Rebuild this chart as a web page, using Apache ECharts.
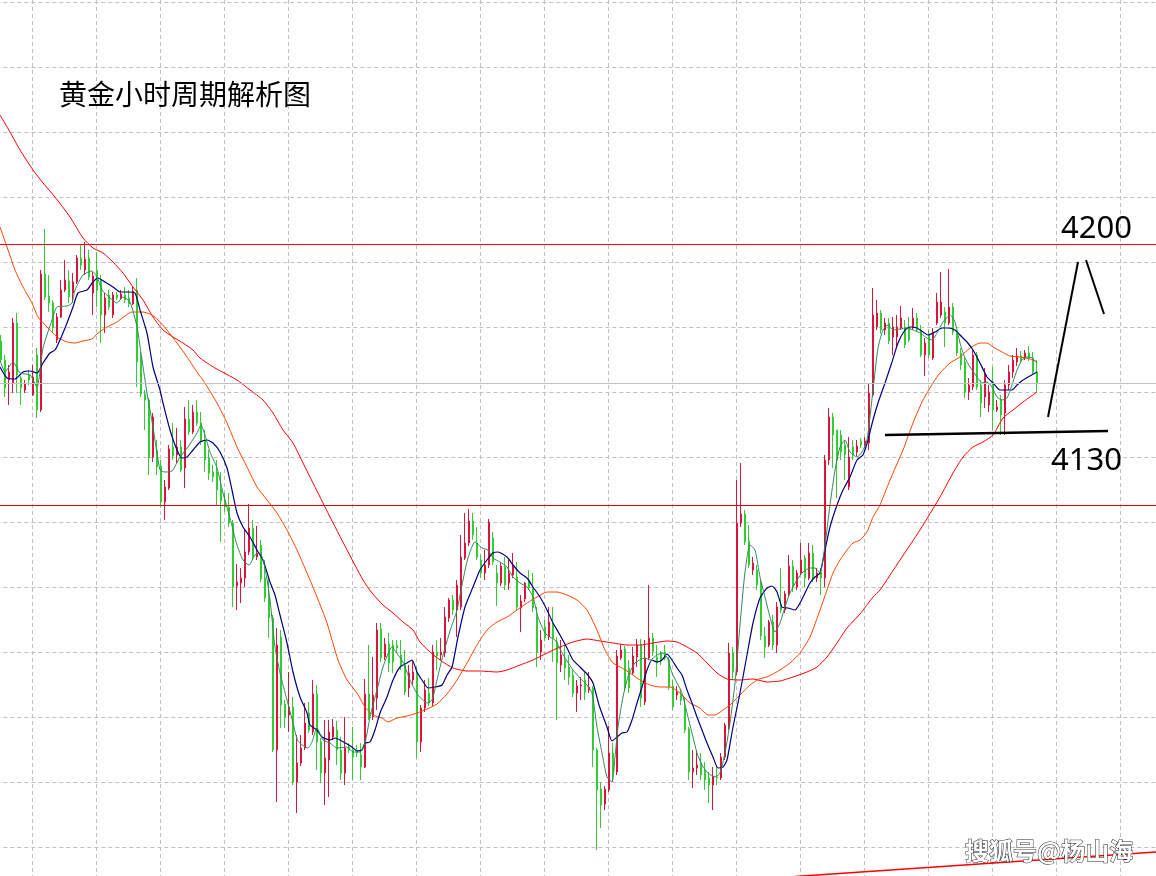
<!DOCTYPE html>
<html>
<head>
<meta charset="utf-8">
<title>黄金小时周期解析图</title>
<script src="https://cdn.jsdelivr.net/npm/echarts/dist/echarts.min.js"></script>
<style>
  html, body { margin: 0; padding: 0; background: #fff; }
  #chart { width: 1156px; height: 876px; }
</style>
</head>
<body>
<div id="chart"></div>
<script>
// hourly gold candles: [open, close, low, high]
const candles = [
  [4161.2,4153.6,4152.8,4163.6],[4153.6,4142.4,4138.8,4155.6],[4145.6,4148.8,4135.6,4151.6],[4144.4,4168.4,4140.4,4170.4],[4168.4,4147.6,4140.4,4172.4],
  [4146.4,4142.4,4135.6,4147.2],[4141.6,4144.0,4140.4,4145.6],[4147.6,4145.6,4143.6,4149.6],[4139.6,4146.8,4139.2,4151.6],[4155.6,4133.6,4130.4,4158.4],
  [4133.6,4188.0,4132.8,4189.6],[4188.0,4178.8,4177.6,4206.0],[4179.2,4176.4,4172.8,4187.6],[4176.4,4166.4,4164.4,4177.6],[4161.6,4170.8,4160.4,4172.4],
  [4170.8,4181.6,4170.4,4185.6],[4181.6,4185.6,4180.8,4193.6],[4185.2,4178.8,4176.4,4189.6],[4180.4,4184.8,4176.4,4188.4],[4184.8,4194.4,4184.0,4195.6],
  [4194.4,4191.6,4189.6,4199.6],[4189.6,4194.0,4187.6,4200.8],[4194.4,4186.8,4185.6,4197.6],[4180.4,4187.2,4171.6,4188.8],[4189.6,4181.6,4174.8,4196.8],
  [4185.6,4171.6,4160.4,4187.6],[4171.6,4178.4,4164.4,4180.4],[4179.6,4174.8,4173.6,4181.6],[4171.6,4179.6,4170.4,4180.8],[4179.6,4178.4,4177.6,4180.8],
  [4178.4,4180.0,4177.6,4181.6],[4179.6,4177.6,4176.4,4182.8],[4178.4,4176.0,4174.8,4181.6],[4176.0,4181.2,4175.6,4182.8],[4181.6,4152.8,4142.8,4186.4],
  [4154.8,4140.0,4138.8,4156.8],[4140.0,4137.6,4125.6,4141.6],[4137.6,4114.4,4107.6,4138.4],[4114.8,4130.8,4112.8,4132.4],[4117.6,4110.8,4107.6,4121.6],
  [4111.2,4096.8,4094.8,4113.6],[4096.8,4102.8,4089.6,4105.6],[4102.4,4118.0,4101.6,4119.6],[4118.8,4115.2,4113.6,4128.4],[4115.6,4118.8,4112.4,4126.4],
  [4118.8,4109.6,4108.8,4121.6],[4110.4,4130.0,4102.4,4134.8],[4130.0,4124.8,4123.6,4137.6],[4124.8,4132.8,4124.0,4135.6],[4132.8,4128.4,4127.2,4137.6],
  [4128.4,4121.6,4119.6,4132.8],[4121.6,4113.6,4108.8,4125.6],[4114.4,4108.4,4105.6,4117.6],[4108.8,4106.8,4104.8,4111.6],[4108.8,4101.6,4095.6,4113.6],
  [4102.0,4097.2,4080.8,4108.8],[4097.6,4094.8,4092.8,4100.4],[4094.8,4088.4,4086.8,4100.4],[4088.4,4062.8,4054.8,4089.6],[4063.2,4064.8,4053.6,4072.0],
  [4064.4,4066.4,4056.4,4070.4],[4066.4,4076.8,4062.8,4086.0],[4076.8,4086.4,4075.6,4096.0],[4086.4,4074.8,4073.6,4089.6],[4074.8,4076.4,4073.6,4087.2],
  [4079.6,4066.0,4064.8,4081.6],[4066.4,4058.4,4056.8,4073.6],[4058.4,4050.4,4042.4,4066.8],[4050.4,3997.6,3996.8,4051.6],[3997.6,4039.6,3976.8,4046.4],
  [4042.8,4015.6,4006.4,4045.6],[4016.0,4010.8,4006.4,4017.6],[4011.6,4014.8,4004.8,4028.8],[4014.8,3984.8,3983.6,4018.8],[3984.8,3992.4,3972.4,4003.6],
  [3992.4,3998.4,3991.2,4003.6],[3998.4,4008.4,3997.6,4016.4],[4012.4,4005.6,4004.4,4016.8],[4004.8,4020.0,4003.6,4025.6],[4020.0,4000.8,3989.6,4023.6],
  [4000.8,3988.4,3984.4,4002.4],[3988.4,3994.4,3975.6,4009.6],[3993.6,4004.8,3978.8,4009.6],[4002.8,4006.8,4001.6,4010.0],[4005.6,3997.6,3991.6,4009.2],
  [3997.6,3988.4,3985.6,4002.8],[3988.4,3998.4,3983.6,4010.8],[3998.8,3997.6,3996.4,4000.4],[3997.6,3994.8,3985.6,4006.8],[3997.6,3996.4,3994.8,3999.6],
  [3995.6,3990.8,3985.6,4000.4],[3990.8,4020.0,3990.4,4026.0],[4020.0,4010.8,4009.6,4039.6],[4010.8,4019.6,4009.6,4034.8],[4018.4,4045.6,4013.6,4048.4],
  [4046.0,4034.4,4032.8,4048.4],[4034.8,4040.0,4033.6,4042.4],[4040.0,4032.4,4028.8,4044.4],[4039.6,4032.8,4028.4,4041.6],[4039.6,4038.4,4036.8,4041.6],
  [4035.6,4031.2,4029.6,4041.6],[4031.6,4020.8,4019.6,4037.6],[4022.4,4028.4,4018.8,4031.6],[4025.6,4028.8,4023.6,4033.6],[4028.4,4000.8,3994.4,4030.8],
  [4000.8,4014.4,3996.8,4015.6],[4014.4,4021.6,4012.8,4025.6],[4020.4,4016.4,4015.2,4026.4],[4016.4,4036.8,4015.2,4039.6],[4036.8,4035.2,4029.6,4041.6],
  [4035.6,4036.8,4033.6,4042.4],[4036.4,4050.8,4034.8,4054.8],[4050.4,4057.6,4048.8,4058.4],[4057.6,4053.6,4051.6,4059.6],[4053.6,4063.6,4042.8,4065.6],
  [4054.8,4074.8,4053.6,4083.6],[4074.4,4080.4,4073.6,4092.4],[4080.4,4089.2,4079.2,4094.0],[4089.2,4083.6,4081.6,4092.4],[4080.4,4074.8,4073.6,4086.8],
  [4073.6,4068.4,4066.4,4075.6],[4068.4,4071.6,4065.6,4077.6],[4071.6,4088.8,4070.4,4090.0],[4082.4,4072.8,4071.6,4084.8],[4068.4,4064.4,4055.2,4071.6],
  [4064.4,4071.2,4063.2,4072.4],[4070.8,4063.6,4061.6,4074.8],[4064.4,4068.4,4061.6,4073.6],[4067.6,4070.8,4066.4,4076.4],[4066.8,4054.8,4053.6,4072.8],
  [4054.4,4057.2,4044.8,4059.6],[4058.0,4064.4,4056.8,4064.8],[4065.6,4062.8,4061.6,4069.6],[4062.4,4054.4,4052.8,4068.4],[4050.8,4036.8,4030.8,4054.8],
  [4036.8,4041.6,4033.6,4045.6],[4046.8,4042.4,4041.2,4049.6],[4042.8,4048.8,4041.6,4054.8],[4048.0,4042.4,4032.8,4054.8],[4040.8,4032.4,4009.6,4042.8],
  [4031.6,4035.6,4028.8,4041.6],[4033.6,4030.4,4025.6,4039.6],[4030.8,4026.8,4023.6,4035.6],[4027.6,4020.4,4018.8,4029.6],[4020.4,4023.2,4012.8,4025.6],
  [4023.2,4023.6,4017.6,4026.8],[4025.6,4020.8,4017.6,4028.8],[4021.6,4022.8,4020.4,4028.8],[4022.4,3997.6,3990.8,4023.2],[3997.6,3981.6,3957.6,3998.4],
  [3982.0,3975.6,3966.4,3984.8],[3976.0,3982.0,3973.6,3983.2],[3981.6,3996.4,3980.8,4007.2],[3996.4,3988.8,3984.8,4000.4],[3988.8,4035.2,3987.6,4037.6],
  [4034.4,4037.6,4033.6,4039.6],[4038.0,4022.4,4021.6,4039.2],[4030.4,4022.4,4020.4,4033.6],[4028.4,4035.2,4027.6,4038.8],[4034.8,4039.6,4030.8,4042.0],
  [4039.6,4018.4,4014.8,4042.0],[4016.8,4034.4,4015.6,4041.6],[4034.4,4042.4,4033.6,4063.6],[4042.4,4036.8,4035.2,4044.4],[4034.8,4032.4,4026.8,4039.6],
  [4036.4,4033.2,4031.6,4037.2],[4036.8,4034.4,4033.6,4039.6],[4033.6,4022.8,4021.6,4034.8],[4023.2,4014.8,4013.6,4025.6],[4019.6,4020.8,4017.6,4023.2],
  [4019.6,4017.6,4015.6,4021.6],[4014.4,4005.6,4004.4,4018.4],[4006.0,3988.8,3985.6,4006.8],[3988.8,3990.4,3982.4,3997.6],[3990.4,3991.6,3987.6,3997.6],
  [3992.4,3987.6,3985.6,3996.4],[3989.6,3985.6,3981.6,3992.8],[3986.4,3983.6,3976.4,3988.8],[3983.6,3987.2,3973.6,3990.8],[3986.8,3986.4,3983.6,3991.6],
  [3986.4,3994.8,3985.6,3996.4],[3994.8,4007.6,3993.6,4008.4],[4006.8,4036.4,4005.6,4040.4],[4036.4,4028.8,4025.6,4038.8],[4028.8,4088.4,4027.6,4105.6],
  [4088.4,4092.0,4086.8,4112.4],[4092.0,4080.8,4079.6,4093.6],[4081.2,4071.6,4070.4,4087.6],[4069.6,4072.4,4067.6,4074.8],[4069.6,4063.6,4061.6,4071.6],
  [4064.4,4043.2,4041.6,4065.6],[4043.2,4038.8,4034.4,4046.8],[4039.6,4048.8,4038.8,4049.6],[4048.8,4039.6,4037.6,4051.6],[4039.6,4054.8,4036.4,4056.8],
  [4055.6,4053.6,4052.4,4070.4],[4053.6,4060.0,4052.4,4061.2],[4060.0,4071.2,4059.2,4075.6],[4071.2,4062.8,4060.8,4073.6],[4062.8,4068.4,4061.6,4069.6],
  [4068.4,4073.6,4067.6,4080.4],[4074.4,4066.4,4062.8,4075.6],[4066.4,4076.4,4065.6,4080.4],[4076.4,4066.4,4064.8,4079.6],[4066.4,4068.4,4064.8,4070.4],
  [4068.8,4066.4,4059.6,4070.4],[4066.4,4113.6,4062.8,4115.6],[4113.6,4130.8,4111.6,4134.4],[4130.8,4123.6,4110.4,4132.4],[4125.6,4113.6,4098.4,4125.6],
  [4123.6,4116.8,4113.6,4125.6],[4119.6,4115.6,4105.6,4121.6],[4102.8,4114.8,4101.6,4122.8],[4118.8,4115.6,4113.6,4121.6],[4116.8,4119.2,4115.2,4121.6],
  [4121.2,4119.6,4118.4,4122.4],[4119.6,4121.2,4118.4,4122.8],[4120.4,4140.4,4117.6,4144.4],[4139.6,4171.6,4138.8,4182.4],[4166.8,4172.4,4165.6,4177.6],
  [4172.4,4165.6,4164.0,4173.6],[4165.6,4168.4,4163.6,4170.4],[4168.4,4161.2,4160.0,4170.4],[4162.8,4166.8,4155.6,4170.8],[4162.8,4166.8,4158.8,4171.6],
  [4166.4,4170.4,4165.6,4175.2],[4166.8,4159.6,4158.4,4169.6],[4166.8,4161.6,4160.8,4170.8],[4166.4,4170.4,4165.6,4174.4],[4170.4,4165.6,4164.8,4172.4],
  [4165.6,4155.6,4154.8,4167.6],[4155.6,4160.4,4147.2,4162.4],[4163.6,4155.6,4154.4,4165.6],[4154.4,4164.8,4153.6,4166.4],[4168.4,4176.8,4167.6,4180.4],
  [4171.6,4176.8,4170.4,4188.8],[4172.8,4168.4,4158.8,4174.8],[4168.4,4174.8,4167.6,4190.0],[4174.8,4164.8,4163.6,4176.4],[4164.4,4156.4,4155.2,4165.6],
  [4156.4,4151.6,4149.6,4158.4],[4152.8,4140.8,4138.4,4154.4],[4140.8,4143.6,4137.6,4146.4],[4142.8,4155.6,4141.6,4157.6],[4155.6,4142.8,4141.6,4156.8],
  [4143.6,4136.4,4130.8,4145.6],[4138.8,4147.6,4134.4,4150.4],[4135.6,4140.8,4132.8,4143.6],[4144.8,4133.6,4125.6,4150.8],[4133.6,4134.8,4132.8,4137.6],
  [4137.6,4131.6,4123.6,4139.6],[4132.4,4143.6,4123.6,4145.6],[4143.6,4148.8,4141.6,4151.6],[4148.8,4153.6,4146.4,4155.6],[4152.8,4155.2,4151.2,4158.4],
  [4155.2,4153.6,4152.4,4157.2],[4154.4,4156.4,4153.6,4157.6],[4156.4,4154.4,4153.2,4159.2],[4154.4,4148.8,4147.6,4156.8],[4148.8,4144.4,4140.4,4153.6]
];

// moving averages: [bar index, price]
const maFast = [
  [-0.25,4153.6],[1,4148.8],[3,4152.8],[4.75,4148.4],[7.25,4147.6],[9,4142.8],[10.5,4158.4],[12.75,4169.6],[14,4174.8],[16.5,4175.2],
  [17.75,4176.4],[18.5,4181.6],[20.5,4187.6],[22.75,4189.2],[24,4186.8],[25.25,4181.6],[27.25,4178.4],[29,4176.4],[30.5,4178.8],[32.25,4176.8],
  [34,4166.8],[35.25,4153.6],[36.5,4140.4],[38,4126.8],[39.75,4109.6],[41,4108.8],[42.75,4109.2],[44.75,4114.8],[46.75,4118.8],[49,4124.4],
  [50,4127.6],[51,4123.6],[52.25,4116.8],[54,4110.4],[55.5,4100.4],[57.25,4090.4],[59,4079.6],[60.5,4073.6],[62,4071.6],[63.5,4075.6],
  [64.75,4076.4],[66,4070.4],[67.25,4057.6],[68.5,4038.8],[69.75,4028.4],[71.5,4017.6],[73,4008.4],[74.25,4001.2],[76.75,3998.4],[77.75,4000.8],
  [79,4006.4],[80.5,4001.6],[82.25,4000.4],[84,3998.4],[86.5,3998.8],[88,3996.8],[89.75,3996.8],[91,4000.4],[92.25,4010.8],[94,4021.6],
  [95.5,4030.8],[97.75,4038.8],[99.25,4035.6],[100.5,4032.8],[102.25,4025.6],[104.25,4019.6],[106.5,4016.4],[107.75,4017.6],[109,4025.6],[110.5,4035.6],
  [112.25,4045.2],[114,4053.6],[115.5,4065.6],[116.75,4074.4],[118.5,4080.8],[120.25,4078.4],[121.75,4077.6],[123,4074.4],[124.75,4072.8],[126.5,4070.8],
  [128,4066.8],[129.75,4064.4],[131.5,4062.8],[133,4058.8],[134.25,4050.8],[136,4044.4],[137.25,4042.8],[138.5,4041.6],[139.75,4038.0],[141.5,4033.2],
  [143,4029.6],[144.75,4026.4],[146.5,4023.6],[147.75,4020.4],[149,4006.8],[150.25,3996.4],[151.5,3986.8],[152.75,3984.8],[153.5,3994.8],[154.25,4006.8],
  [155.5,4018.8],[156.75,4026.8],[158.5,4032.4],[161,4034.4],[162.25,4033.6],[164,4035.6],[165.25,4036.4],[166.5,4034.8],[167.75,4028.4],[169,4024.4],
  [170.25,4020.4],[171.5,4012.4],[172.75,4004.4],[174,3996.4],[175.25,3991.6],[176.75,3988.4],[178.5,3986.8],[179.75,3988.4],[181,3996.4],[182.25,4008.4],
  [183.5,4024.4],[184.75,4047.6],[186,4068.8],[187.25,4079.6],[188.5,4077.6],[189.75,4066.8],[191,4058.8],[192.25,4050.8],[193.5,4044.8],[194.75,4048.4],
  [196,4054.8],[197.25,4060.4],[199,4065.6],[200.5,4068.8],[202.25,4070.4],[203.5,4070.4],[204.75,4068.4],[206,4079.6],[207.25,4095.6],[208.5,4109.6],
  [209.75,4118.8],[211,4121.6],[212.25,4116.8],[214,4114.8],[215.25,4116.8],[216.5,4121.6],[218,4141.6],[219.25,4158.4],[220.5,4165.6],[221.75,4167.6],
  [223,4165.6],[224.75,4166.0],[226.5,4166.4],[228,4165.6],[229.75,4164.4],[231.5,4162.4],[232.75,4161.6],[234,4164.4],[235.5,4168.8],[237.25,4171.6],
  [238.5,4168.8],[239.75,4160.4],[241,4154.4],[242.25,4150.8],[244,4146.8],[245.25,4144.4],[246.5,4144.8],[247.75,4142.8],[249,4138.8],[250.25,4137.6],
  [251.5,4138.4],[252.75,4143.6],[254,4149.6],[255.25,4153.6],[256.5,4154.8],[257.75,4154.4],[259,4152.4]
];

const maMid = [
  [-0.25,4150.8],[1.5,4146.4],[3.5,4146.0],[5.5,4148.8],[7.25,4149.2],[9,4148.4],[10.5,4152.4],[12.25,4156.4],[13.5,4157.6],[14.75,4161.6],
  [16.5,4168.4],[18,4174.8],[19.25,4180.4],[21.5,4181.6],[23,4184.8],[24.25,4186.4],[26,4184.8],[28,4182.8],[29.75,4180.8],[31.75,4180.8],
  [33.5,4180.4],[34.75,4173.6],[36.5,4164.4],[38,4150.8],[39.75,4141.6],[40.5,4136.4],[42.25,4125.6],[44,4117.6],[45.25,4114.4],[46.5,4114.8],
  [48,4117.6],[49.75,4120.8],[51.5,4121.6],[53,4120.4],[54.75,4116.8],[56.5,4110.4],[57.75,4101.6],[59,4092.4],[60.5,4086.8],[62.25,4082.8],
  [64,4077.6],[65.5,4073.6],[67.25,4064.8],[68.5,4059.6],[69.75,4051.6],[71.5,4040.4],[73,4028.8],[74.75,4018.8],[76.5,4012.4],[77.25,4007.6],
  [79,4005.6],[80.25,4002.8],[82.25,4001.6],[83.5,4002.4],[84.75,4001.6],[86.5,4000.0],[87.75,3998.8],[89,3997.2],[90.25,3997.6],[91,4000.4],
  [92.25,4000.8],[93.5,4005.6],[94.75,4012.4],[96.5,4018.8],[98,4025.6],[99.75,4030.8],[101.5,4032.4],[102.75,4033.6],[104,4028.8],[105.25,4025.6],
  [106.75,4022.4],[108.5,4022.8],[110.25,4023.6],[111.5,4027.6],[112.75,4030.8],[114.25,4042.8],[116,4054.8],[118,4062.8],[119.75,4069.6],[121.5,4073.6],
  [123,4076.4],[124.25,4076.8],[126.5,4074.8],[128,4071.6],[129.75,4068.4],[131.5,4066.4],[133,4062.8],[134.75,4058.8],[136.5,4053.6],[138,4048.4],
  [139.75,4043.6],[141.5,4038.4],[143,4033.6],[144.75,4030.8],[146.5,4028.0],[148,4024.4],[149.5,4015.6],[151.5,4006.8],[152.75,4001.2],[154,4002.8],
  [155.25,4004.4],[156.5,4004.8],[157.75,4009.6],[159,4016.4],[160.25,4022.8],[161.5,4029.6],[162.75,4033.6],[164,4032.8],[165.25,4033.6],[166.5,4036.0],
  [167.75,4033.6],[169,4030.4],[170.25,4027.6],[171.5,4021.6],[172.75,4016.4],[174,4010.8],[175.25,4005.6],[176.5,4000.4],[178,3994.8],[179.25,3990.4],
  [180.5,3990.8],[181.5,3993.6],[183,4006.8],[184.75,4020.4],[186.5,4035.6],[188,4048.4],[189.75,4058.4],[191.5,4062.4],[192.75,4063.2],[194,4060.8],
  [195.25,4054.8],[196.75,4054.4],[198.5,4053.6],[199.75,4056.4],[201,4060.4],[202.25,4064.4],[203.5,4066.8],[204.75,4068.4],[206,4077.6],[207.25,4086.8],
  [209,4095.6],[210.5,4101.6],[212.25,4106.8],[214,4113.6],[215.5,4115.6],[216.75,4121.6],[218,4129.6],[219.25,4136.4],[221,4144.4],[222.75,4152.8],
  [224.25,4160.4],[226,4165.6],[227.25,4166.8],[229,4166.4],[230.5,4164.8],[231.75,4163.6],[233.5,4164.8],[235.25,4166.4],[236.75,4166.4],[238.5,4165.6],
  [239.75,4163.6],[241.5,4160.8],[243,4157.6],[244.75,4152.4],[246.5,4146.8],[248,4144.4],[249.75,4141.6],[251.5,4141.6],[252.75,4141.6],[254,4143.6],
  [255.5,4145.6],[257.25,4147.2],[259,4148.8]
];

const maSlow = [
  [-0.25,4206.8],[1.5,4198.8],[3.5,4189.6],[5.5,4182.8],[7.75,4176.4],[9.25,4170.8],[11.5,4166.8],[14,4162.8],[16.5,4160.8],[18.5,4160.4],
  [20.5,4161.2],[22.75,4162.0],[24.25,4164.4],[26.5,4166.8],[29,4168.8],[31,4171.2],[32.75,4172.8],[35.5,4172.8],[37.75,4171.6],[39.25,4169.6],
  [41.5,4165.6],[44,4160.4],[46.5,4154.8],[49.5,4147.6],[50.5,4145.6],[54,4136.4],[56.5,4128.4],[59,4118.8],[61.5,4110.8],[64,4102.8],
  [66.5,4097.6],[69,4092.4],[71.5,4085.6],[74,4077.6],[76.5,4068.4],[79,4058.8],[81.5,4048.4],[84.25,4033.6],[86.5,4025.6],[89,4020.4],
  [91,4014.8],[93,4011.6],[95.25,4010.4],[96.75,4008.8],[99,4010.4],[101.5,4011.2],[104,4012.4],[106.5,4014.0],[109,4016.0],[111.5,4020.0],
  [114,4025.6],[116.5,4032.4],[119,4039.6],[121.5,4045.6],[124,4048.8],[126.5,4050.8],[129,4053.6],[131.5,4056.4],[134,4058.8],[136.5,4060.8],
  [139,4060.8],[141.5,4059.6],[144,4057.6],[146.5,4053.6],[149,4045.6],[151,4037.6],[153,4032.4],[155.25,4030.4],[157.25,4028.4],[159.75,4025.6],
  [162.25,4023.6],[164.75,4022.8],[167.25,4022.8],[169.75,4020.4],[172.25,4016.4],[174.75,4014.4],[176.75,4011.6],[178.5,4011.6],[180.5,4013.6],[182.25,4015.6],
  [184.75,4019.6],[187.25,4023.6],[189.5,4026.0],[191.5,4026.8],[194.75,4029.6],[197.25,4032.4],[199.75,4036.4],[202.25,4042.8],[204.75,4053.6],[206.5,4061.6],
  [208,4068.4],[209.75,4073.6],[211.5,4077.6],[213,4080.4],[214.75,4081.6],[216.5,4084.8],[218,4090.8],[219.75,4095.6],[222.25,4105.6],[225.5,4117.6],
  [228,4128.4],[230.5,4137.6],[233,4144.4],[234.75,4148.4],[237.25,4152.4],[239.75,4154.8],[242.25,4158.4],[244.75,4160.4],[246.5,4160.4],[248,4158.8],
  [250.25,4156.8],[252.25,4155.2],[254.75,4154.8],[257.25,4154.0],[259,4152.8]
];

const maLong = [
  [-0.25,4251.6],[2.25,4244.8],[4.75,4237.6],[8,4229.6],[10.5,4224.4],[13.5,4218.8],[17.25,4210.8],[20.5,4202.4],[23,4198.4],[25.5,4196.4],
  [28,4192.8],[30.5,4188.4],[33,4182.8],[35.5,4177.6],[38,4170.8],[40.5,4165.6],[43,4162.8],[45.5,4160.4],[48,4157.6],[49.75,4154.4],
  [53.5,4150.4],[59,4145.6],[62.25,4141.6],[65.5,4137.6],[68,4132.4],[70.5,4125.6],[73,4120.4],[75.5,4112.4],[78,4104.4],[80.5,4096.4],
  [82,4091.6],[86.25,4078.4],[90.5,4065.6],[92.75,4060.4],[95.5,4055.6],[98,4052.4],[100.5,4048.8],[103,4045.6],[104.75,4040.8],[107.25,4036.8],
  [109.75,4033.6],[113,4030.4],[116.5,4029.2],[119.75,4029.2],[124,4028.8],[126.5,4029.6],[129.75,4031.6],[133,4033.6],[136.5,4036.4],[139.75,4038.8],
  [143,4040.8],[146.5,4042.0],[149.75,4041.2],[153,4040.4],[156.5,4039.6],[159.75,4039.6],[163,4040.4],[166.5,4041.2],[169,4040.8],[171.5,4038.8],
  [174,4036.4],[176.5,4032.4],[179,4028.4],[181.5,4026.0],[184.75,4025.6],[188,4026.0],[191.5,4024.8],[194.75,4025.2],[198,4026.8],[201.5,4028.8],
  [204,4030.8],[206.5,4034.8],[209,4040.4],[211.5,4046.4],[214.75,4052.0],[218,4058.8],[219.75,4061.6],[224.75,4073.6],[229.75,4085.6],[234.75,4098.8],
  [238,4108.4],[240.5,4114.8],[243,4118.8],[245.5,4120.8],[248,4123.6],[250.5,4130.4],[253,4133.6],[255.5,4136.8],[259,4140.8]
];

// horizontal levels
const resistanceLevel = 4200;
const lowerLevel = 4095.6;
const lastClose = candles[candles.length - 1][1];

// hand-drawn annotations: [bar index, price]
const baseLine = [[221, 4123.6], [276.75, 4125.2]];
const upStroke = [[261.75, 4130.8], [269.25, 4192.8]];
const downStroke = [[271.25, 4193.6], [275.75, 4172.0]];
const longTrend = [[198.5, 3947.0], [289.5, 3956.9]];

const barCount = 290;
const categories = Array.from({ length: barCount }, (_, i) => String(i));

const chart = echarts.init(document.getElementById('chart'), null, { renderer: 'canvas' });

const gridDash = { show: true, lineStyle: { color: '#c0c0c0', type: [4, 3], width: 1 } };
const hidden = { axisLine: { show: false }, axisTick: { show: false }, axisLabel: { show: false } };

function lineSeries(data, color, width, z) {
  return {
    type: 'line',
    xAxisIndex: 1,
    yAxisIndex: 0,
    data: data,
    symbol: 'none',
    showSymbol: false,
    smooth: 0.2,
    silent: true,
    z: z || 3,
    lineStyle: { color: color, width: width }
  };
}

const option = {
  animation: false,
  backgroundColor: '#ffffff',
  title: {
    text: '黄金小时周期解析图',
    left: 54,
    top: 75,
    textStyle: {
      fontSize: 28,
      fontWeight: 'normal',
      color: '#000000',
      fontFamily: '"Noto Sans CJK SC", sans-serif'
    }
  },
  grid: [
    { left: -1, top: -63, width: 1160, height: 975, containLabel: false, outerBoundsMode: 'none' },
    { left: -31.7, top: -63, width: 1216, height: 975, containLabel: false, outerBoundsMode: 'none' }
  ],
  xAxis: [
    { type: 'category', gridIndex: 0, data: categories, boundaryGap: true, show: false },
    { type: 'value', gridIndex: 0, min: -0.5, max: barCount - 0.5, show: false },
    Object.assign({ type: 'value', gridIndex: 1, min: 0, max: 19, interval: 1, splitLine: gridDash }, hidden)
  ],
  yAxis: [
    { type: 'value', gridIndex: 0, min: 3932.8, max: 4322.8, show: false },
    Object.assign({ type: 'value', gridIndex: 1, min: 0, max: 15, interval: 1, splitLine: gridDash }, hidden)
  ],
  series: [
    {
      type: 'candlestick',
      xAxisIndex: 0,
      yAxisIndex: 0,
      data: candles,
      barWidth: 2,
      silent: true,
      itemStyle: {
        color: '#dc143c',
        color0: '#32cd32',
        borderColor: '#dc143c',
        borderColor0: '#32cd32',
        borderWidth: 1
      },
      markLine: {
        silent: true,
        symbol: ['none', 'none'],
        label: { show: false },
        data: [
          { yAxis: resistanceLevel, lineStyle: { color: '#ff0000', width: 1, type: 'solid' } },
          { yAxis: lowerLevel, lineStyle: { color: '#e00000', width: 1, type: 'solid' } },
          { yAxis: lastClose, lineStyle: { color: '#c0c0c0', width: 1, type: 'solid' } }
        ]
      }
    },
    lineSeries(maLong, '#ff0000', 1),
    lineSeries(maSlow, '#ff4500', 1),
    lineSeries(maMid, '#000080', 1.2),
    lineSeries(maFast, '#2e8b57', 1),
    lineSeries(longTrend, '#ff0000', 1.5, 4),
    Object.assign(lineSeries(baseLine, '#000000', 2.5, 5), { smooth: false }),
    Object.assign(lineSeries(upStroke, '#000000', 2, 5), { smooth: false }),
    Object.assign(lineSeries(downStroke, '#000000', 2, 5), { smooth: false })
  ],
  graphic: [
    {
      type: 'text', x: 1061, y: 229, z: 10,
      style: { text: '4200', font: '31px "Noto Sans", sans-serif', fill: '#000', verticalAlign: 'middle', textVerticalAlign: 'middle' }
    },
    {
      type: 'text', x: 1051, y: 461, z: 10,
      style: { text: '4130', font: '31px "Noto Sans", sans-serif', fill: '#000', verticalAlign: 'middle', textVerticalAlign: 'middle' }
    },
    {
      type: 'text', x: 965, y: 851, z: 10,
      style: {
        text: '搜狐号@杨山海',
        font: 'bold 24px "Noto Sans CJK SC", sans-serif',
        fill: '#ffffff',
        stroke: '#222222',
        lineWidth: 1,
        shadowColor: 'rgba(0,0,0,0.9)',
        shadowOffsetX: -1.5,
        shadowOffsetY: 1.5,
        shadowBlur: 0,
        verticalAlign: 'middle',
        textVerticalAlign: 'middle'
      }
    }
  ]
};

chart.setOption(option);
</script>
</body>
</html>
